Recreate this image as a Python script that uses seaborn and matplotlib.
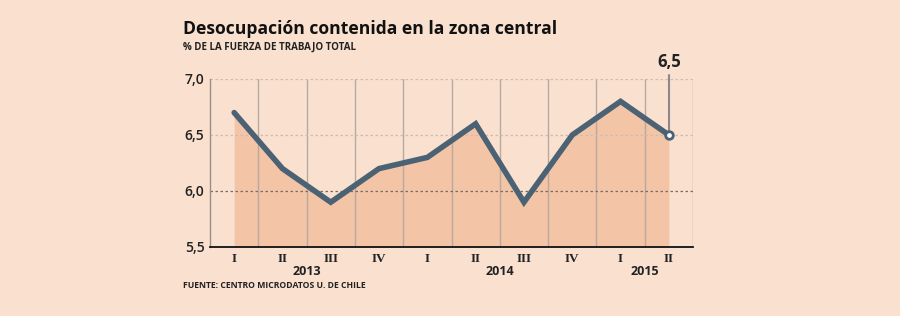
import matplotlib
matplotlib.use("Agg")
import matplotlib.pyplot as plt
import seaborn as sns
import pandas as pd
import numpy as np

quarters = ["I", "II", "III", "IV", "I", "II", "III", "IV", "I", "II"]
years = ["2013", "2014", "2015"]
year_pos = [1.5, 5.5, 8.5]
values = [6.7, 6.2, 5.9, 6.2, 6.3, 6.6, 5.9, 6.5, 6.8, 6.5]
yticks = [5.5, 6.0, 6.5, 7.0]
ytick_labels = ["5,5", "6,0", "6,5", "7,0"]

df = pd.DataFrame({"idx": np.arange(len(values)), "val": values})

bg = "#f9e0cf"
fill = "#f3c4a6"
line_c = "#4a6274"

sns.set_style("white")
plt.rcParams["font.family"] = ["Open Sans", "DejaVu Sans"]

fig = plt.figure(figsize=(9, 3.16), dpi=100, facecolor=bg)
ax = fig.add_axes([210/900, 1-247/316, (693-210)/900, (247-79)/316])
ax.set_facecolor(bg)

ax.fill_between(df["idx"], values, 5.5, color=fill, lw=0, zorder=1)

# vertical grid at midpoints
for xv in np.arange(len(values) - 1) + 0.5:
    ax.axvline(xv, color="#b9aaa0", lw=1.0, zorder=2)
ax.axvline(9.5, color="#b9aaa0", lw=1.0, zorder=2)
for yv in [6.5, 7.0]:
    ax.axhline(yv, color="#cbbdb3", lw=0.9, ls=(0, (2, 2)), zorder=2)
ax.axhline(6.0, color="#7a6c64", lw=0.9, ls=(0, (2, 2)), zorder=2)

sns.lineplot(data=df, x="idx", y="val", ax=ax, color=line_c, lw=4,
             zorder=4, legend=False)
ax.lines[-1].set_solid_joinstyle("miter")
ax.plot([9, 9], [6.5, 7.035], color="#8a8a8a", lw=1.5, zorder=3, clip_on=False)
ax.scatter([9], [6.5], s=30, color="white", edgecolor=line_c, lw=2, zorder=5)
ax.text(9, 7.07, "6,5", ha="center", va="bottom", fontsize=12, fontweight="bold",
        color="#222222")

ax.set_xlim(-0.5, 9.5)
ax.set_ylim(5.5, 7.0)
ax.set_yticks(yticks)
ax.set_yticklabels(ytick_labels, fontsize=10, fontweight="semibold", color="#222222")
ax.set_xticks(df["idx"])
ax.set_xticklabels(quarters, fontsize=9.5, fontweight="bold",
                   family="Liberation Serif", color="#222222")
ax.tick_params(axis="both", length=0, pad=4)
ax.tick_params(axis="x", pad=4)
ax.set_xlabel("")
ax.set_ylabel("")
for s in ["top", "right"]:
    ax.spines[s].set_visible(False)
ax.spines["left"].set_color("#9a8f88")
ax.spines["left"].set_linewidth(1)
ax.spines["bottom"].set_color("#111111")
ax.spines["bottom"].set_linewidth(1.3)

for yr, xp in zip(years, year_pos):
    ax.text(xp, -0.105, yr, transform=ax.get_xaxis_transform(), ha="center",
            va="top", fontsize=9, fontweight="bold", color="#222222")

fig.text(183/900, 1-29/316, "Desocupación contenida en la zona central",
         fontsize=12.6, fontweight="bold", va="center", ha="left", color="#111111")
fig.text(183/900, 1-47/316, "% DE LA FUERZA DE TRABAJO TOTAL",
         fontsize=7, fontweight="bold", va="center", ha="left", color="#222222")
fig.text(183/900, 1-286/316, "FUENTE: CENTRO MICRODATOS U. DE CHILE",
         fontsize=6.2, fontweight="bold", va="center", ha="left", color="#222222")

fig.savefig("out.png", dpi=100, facecolor=bg)
